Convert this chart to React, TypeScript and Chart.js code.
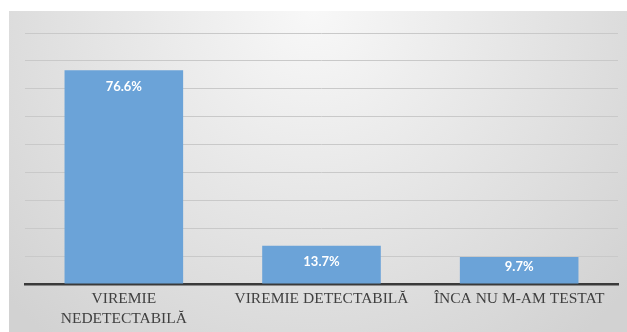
import React, { useEffect, useRef } from "react";
import { Chart, registerables } from "chart.js";

Chart.register(...registerables);

const categories: (string | string[])[] = [
  ["VIREMIE", "NEDETECTABILĂ"],
  "VIREMIE DETECTABILĂ",
  "ÎNCA NU M-AM TESTAT",
];
const values: number[] = [76.6, 13.7, 9.7];
const valueLabels: string[] = ["76.6%", "13.7%", "9.7%"];
const yMax = 90;
const yStep = 10;

const W = 627;
const H = 332;

const backgroundPlugin = {
  id: "panelBg",
  beforeDraw(chart: any) {
    const { ctx, width, height } = chart;
    ctx.save();
    ctx.fillStyle = "#ffffff";
    ctx.fillRect(0, 0, width, height);
    const x0 = 9;
    const y0 = 11;
    const g = ctx.createRadialGradient(width / 2, y0, 0, width / 2, y0, 420);
    g.addColorStop(0, "#f8f8f8");
    g.addColorStop(1, "#d2d2d2");
    ctx.fillStyle = g;
    ctx.fillRect(x0, y0, width - x0, height - y0);
    ctx.restore();
  },
};

const labelPlugin = {
  id: "valueLabels",
  afterDatasetsDraw(chart: any) {
    const { ctx } = chart;
    const meta = chart.getDatasetMeta(0);
    const base = chart.scales.y.getPixelForValue(0);
    ctx.save();
    ctx.fillStyle = "#ffffff";
    ctx.font = "bold 13px Lato";
    ctx.textAlign = "center";
    ctx.textBaseline = "middle";
    meta.data.forEach((bar: any, i: number) => {
      const y = Math.min(bar.y + 16, base - 17);
      ctx.fillText(valueLabels[i], bar.x, y);
    });
    ctx.restore();
  },
};

export default function App() {
  const ref = useRef<HTMLCanvasElement>(null);
  useEffect(() => {
    if (!ref.current) return;
    const chart = new Chart(ref.current, {
      type: "bar",
      data: {
        labels: categories,
        datasets: [
          {
            data: values,
            backgroundColor: "#6ba3d8",
            barPercentage: 0.6,
            categoryPercentage: 1,
          },
        ],
      },
      options: {
        responsive: false,
        animation: false,
        devicePixelRatio: 1,
        layout: { padding: { left: 25, right: 9, top: 33, bottom: 0 } },
        plugins: {
          legend: { display: false },
          tooltip: { enabled: false },
        },
        scales: {
          y: {
            min: 0,
            max: yMax,
            ticks: { display: false, stepSize: yStep },
            grid: { color: "#c9c9c9", lineWidth: 1, drawTicks: false },
            border: { display: false },
            afterFit: (s: any) => {
              s.width = 0;
            },
          },
          x: {
            grid: { display: false, drawTicks: false },
            border: { display: true, color: "#3a3a3a", width: 2.5 },
            ticks: {
              color: "#404040",
              padding: 5,
              maxRotation: 0,
              autoSkip: false,
              font: { family: "Liberation Serif", size: 15.5, lineHeight: 1.3 },
            },
            afterFit: (s: any) => {
              s.height = 48;
            },
          },
        },
      },
      plugins: [backgroundPlugin, labelPlugin],
    });
    return () => chart.destroy();
  }, []);
  return (
    <div style={{ position: "fixed", left: 0, top: 0, width: W, height: H }}>
      <canvas ref={ref} width={W} height={H} style={{ display: "block" }} />
    </div>
  );
}
